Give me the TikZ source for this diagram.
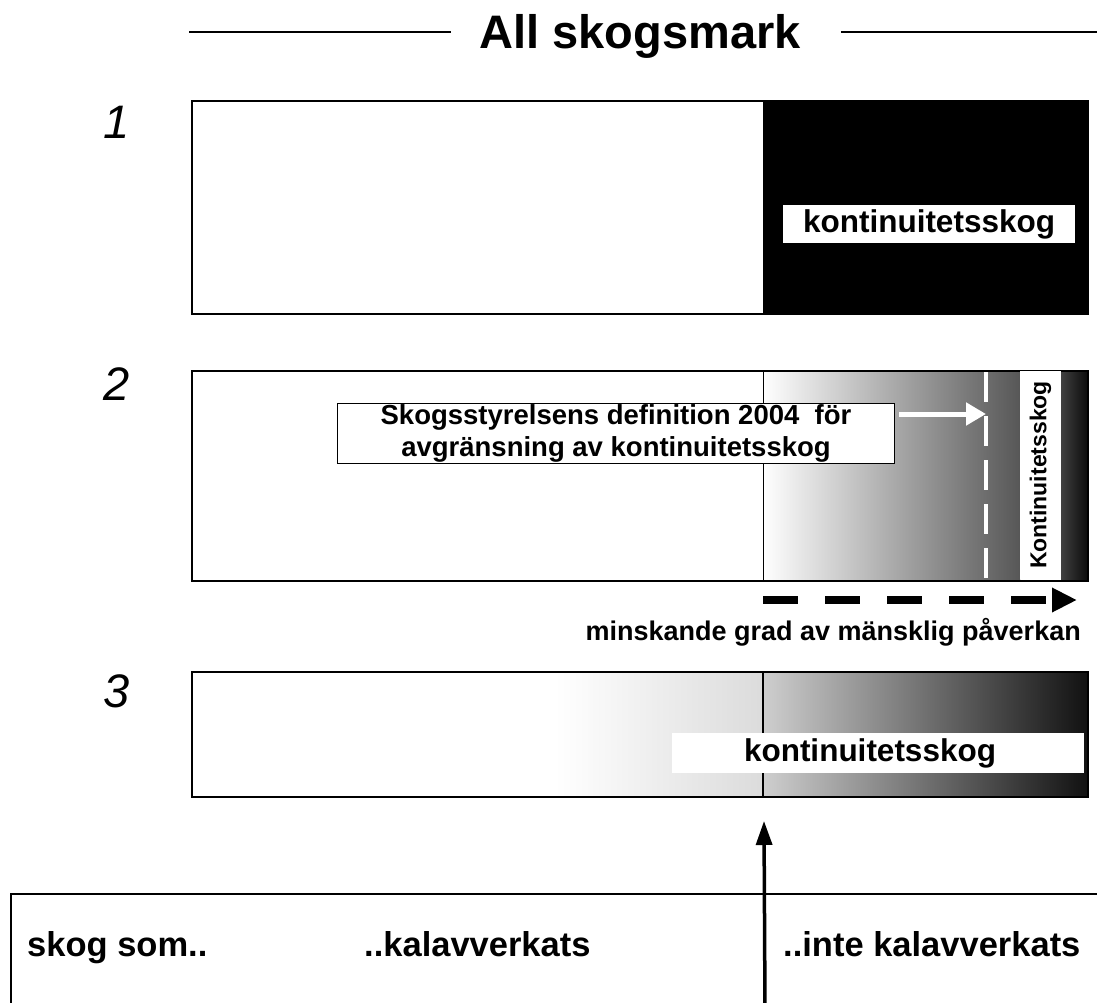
\documentclass[tikz,border=0pt]{standalone}
\usepackage{fontspec}
\setmainfont{Liberation Sans}
\usetikzlibrary{arrows.meta,positioning}
\newcommand{\boldsize}[2]{\fontsize{#1}{#2}\selectfont\bfseries}

\begin{document}
\begin{tikzpicture}[
        x=1pt, y=-1pt,
        panel/.style={
            draw=black,
            line width=1.6pt,
            anchor=north west,
            inner sep=0pt,
            minimum width=896pt
        },
        whitelabel/.style={fill=white, inner sep=0pt, font=\boldsize{31.5pt}{36pt}},
        textbox/.style={draw=black, line width=1pt, fill=white, align=center,
            inner sep=0pt, font=\boldsize{27.5pt}{32pt}},
        rownum/.style={font=\fontsize{47pt}{52pt}\selectfont\itshape},
        scaletext/.style={anchor=base west, inner sep=0pt, font=\boldsize{34.5pt}{40pt}},
        rule/.style={line width=1.5pt},
        trend/.style={-{Triangle[length=25pt,width=23pt]}, line width=8pt, dash pattern=on 35pt off 27pt},
        marker/.style={-{Triangle[length=20pt,width=22pt]}, line width=5pt, draw=white},
        boundary/.style={-{Triangle[length=24pt,width=16pt]}, line width=3.5pt}
    ]
        \useasboundingbox (0,0) rectangle (1097,1003);

        % title
        \node[font=\boldsize{47pt}{52pt}, inner sep=0pt, anchor=base] (title) at (640,49) {All skogsmark};
        \coordinate (ruleL) at (189,32);
        \coordinate (ruleR) at (1097,32);
        \draw[rule] (ruleL) -- ([xshift=-28pt]title.west |- ruleL);
        \draw[rule] ([xshift=40pt]title.east |- ruleR) -- (ruleR);

        % row numbers
        \node[rownum] (num1) at (117,122) {1};
        \node[rownum] (num2) at (117,384) {2};
        \node[rownum] (num3) at (117,691) {3};

        % row 1
        \fill[black] (763,100) rectangle (1087,313);
        \node[panel, minimum height=213pt] (row1) at (191,100) {};
        \node[whitelabel, minimum width=292pt, minimum height=38pt] (forest1) at (929,224) {kontinuitetsskog};

        % row 2
        \shade[left color=white, right color=black!66] (763,370) rectangle (1020,580);
        \shade[left color=black!75, right color=black!95] (1061,370) rectangle (1087,580);
        \coordinate (limtop) at (986,372);
        \coordinate (limbot) at (986,580);
        \draw[white, line width=4pt, dash pattern=on 30pt off 14pt] (limtop) -- (limbot);
        \node[panel, minimum height=210pt] (row2) at (191,370) {};
        \draw[line width=1pt] (763,370) -- (763,580);
        \node[whitelabel, rotate=90, minimum width=208pt, minimum height=41pt,
            font=\boldsize{23pt}{26pt}] (forest2) at (1040.5,475) {Kontinuitetsskog};
        \node[textbox, minimum width=557pt, minimum height=60pt] (defbox) at (616,433.5)
            {Skogsstyrelsens definition 2004\ \ för\\avgränsning av kontinuitetsskog};
        \coordinate (limmark) at (986,414);
        \draw[marker] ([xshift=4pt]defbox.east |- limmark) -- (limmark);

        % direction of human impact
        \coordinate (trendstart) at (763,600);
        \coordinate (trendend) at (1077,600);
        \draw[trend] (trendstart) -- (trendend);
        \node[anchor=base east, inner sep=0pt, font=\boldsize{27pt}{31pt}] (trendlabel) at (1081,640)
            {minskande grad av mänsklig påverkan};

        % row 3
        \shade[left color=white, right color=black!14] (555,671) rectangle (763,796);
        \shade[left color=black!19, right color=black!93] (763,671) rectangle (1087,796);
        \node[panel, minimum height=125pt] (row3) at (191,671) {};
        \draw[line width=2pt] (763,671) -- (763,796);
        \node[whitelabel, minimum width=412pt, minimum height=40pt] (forest3) at (878,753) {};
        \node[font=\boldsize{31.5pt}{36pt}, inner sep=0pt] (forest3text) at (870,753) {kontinuitetsskog};

        % bottom scale
        \node[panel, minimum width=1100pt, minimum height=130pt] (scale) at (10,893) {};
        \node[scaletext] (forest) at (27,956) {skog som..};
        \node[scaletext] (clearcut) at (364,956) {..kalavverkats};
        \node[scaletext] (uncut) at (783,956) {..inte kalavverkats};
        \coordinate (cutbottom) at (765,1010);
        \coordinate (cuttop) at (764,821);
        \draw[boundary] (cutbottom) -- (cuttop);
    \end{tikzpicture}
\end{document}
